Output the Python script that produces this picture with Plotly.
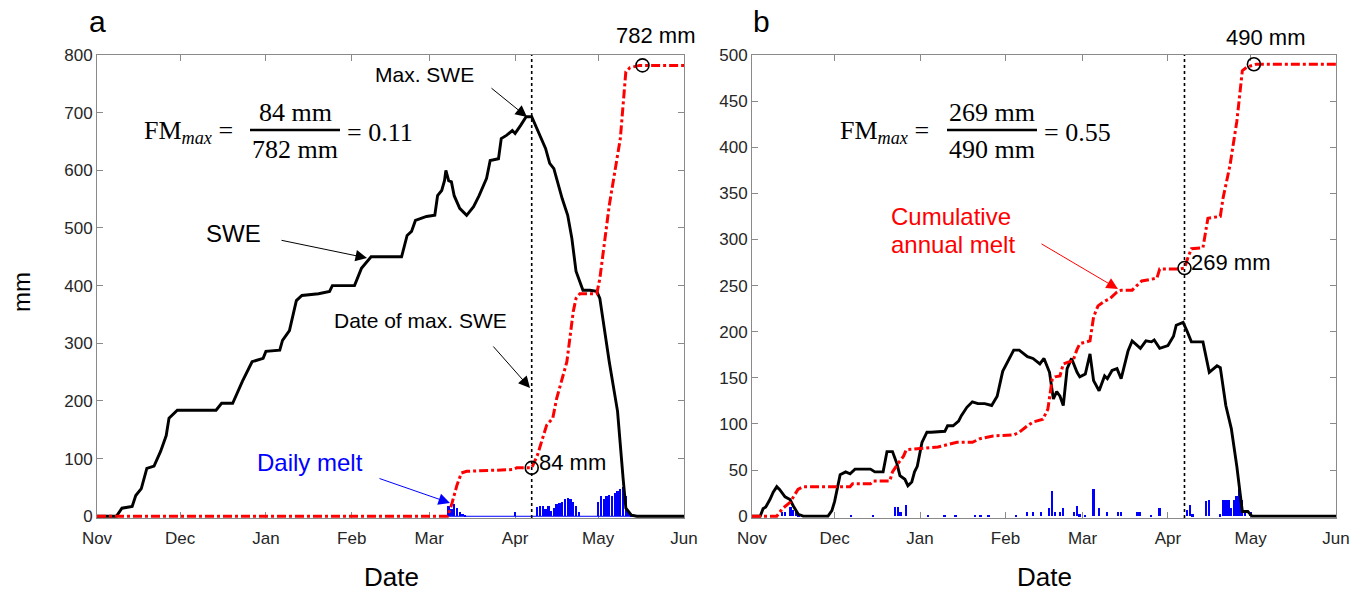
import pandas as pd
import plotly.graph_objects as go

# ---------------- data (days since 1 Nov, mm) ----------------
season_start = "2010-11-01"
month_ticks = ["2010-11-01", "2010-12-01", "2011-01-01", "2011-02-01",
               "2011-03-01", "2011-04-01", "2011-05-01", "2011-06-01"]
month_labels = ["Nov", "Dec", "Jan", "Feb", "Mar", "Apr", "May", "Jun"]

# Panel a
swe_a_day = [0, 7, 9, 12.7, 14, 16, 18, 20.6, 23, 25, 26, 27, 29, 43, 45, 49, 52.5, 56, 60, 61,
             66, 67, 69.5, 72, 74, 80, 84, 85, 93, 95.5, 99, 110, 112, 113.6, 115, 119, 122, 123, 124.5, 125.5,
             126, 127, 128, 129, 131, 133.5, 136, 138, 140.7, 142, 145, 146, 148, 150, 151, 153, 155, 157, 160, 162,
             163.5, 165, 168, 170, 171.5, 173, 175.5, 178, 180.5, 181.6, 185, 188, 190, 191, 193, 195, 212]
swe_a_val = [0, 0, 14, 17, 36, 48, 83, 87, 113, 140, 170, 175, 184, 184, 196, 196, 234, 268, 274, 286,
             288, 305, 322, 374, 383, 386, 390, 400, 400, 430, 450, 450, 487, 494, 513, 520, 522, 556, 565, 582,
             600, 582, 580, 556, 534, 522, 537, 556, 586, 617, 620, 655, 661, 669, 664, 678, 693, 693, 661, 638,
             612, 603, 551, 522, 482, 425, 392, 392, 390, 378, 268, 182, 66, 14, 2, 0, 0]
cum_a_day = [0, 126.6, 128, 130, 131.6, 133.5, 150, 151.6, 157, 159, 160.6, 162.4, 164.6, 166, 169.7, 172,
             173, 174.4, 180.5, 181.6, 185, 189, 191, 192.5, 196, 212]
cum_a_val = [0, 0, 19, 54, 75, 78, 81, 84, 84, 105, 130, 158, 170, 204, 268, 355,
             378, 386, 386, 412, 539, 655, 771, 778, 782, 782]
melt_a_day = [127, 128, 129, 130, 131, 132, 133, 151, 159, 160, 161, 162, 163, 164, 165, 166, 167, 168,
              169, 170, 171, 172, 173, 174, 181, 182, 183, 184, 185, 186, 187, 188, 189, 190, 191, 192, 193]
melt_a_val = [18, 12, 22, 15, 8, 4, 2, 7, 16, 18, 17, 13, 18, 10, 14, 21, 23, 25,
              30, 31, 30, 24, 18, 7, 25, 36, 30, 35, 37, 35, 41, 44, 47, 50, 36, 10, 3]
melt_a_span = [126, 195]
mark_a_day = [157, 197]
mark_a_val = [84, 782]
peak_a_day = 157

# Panel b
swe_b_day = [0, 3, 4, 5, 6.5, 7.7, 9, 10, 12, 13.8, 15, 16.8, 18.6, 27.6, 29, 30, 32, 34, 35.6, 37.4,
             43, 44.6, 47.6, 49, 51, 52.6, 53.7, 55.5, 56.6, 58, 59, 60, 61.7, 63.5, 65, 68, 70, 71, 73, 75,
             76, 78, 80, 82, 84.5, 87, 89, 91, 93.6, 95, 97, 100, 102, 104.5, 106, 108, 109.4, 110.6, 111.8, 113,
             114.4, 116, 118, 119, 121, 122.7, 124, 126, 128, 129, 130.7, 132.5, 134, 136.5, 138, 141, 143, 145, 146, 148,
             151, 153, 154, 156.5, 158, 159.5, 163.7, 166, 168.8, 170, 172, 174, 176, 177, 178, 180, 181.5, 212]
swe_b_val = [0, 0, 8, 10, 18, 26, 32, 29, 21, 18, 11, 2, 0, 0, 6, 16, 45, 48, 46, 51,
             51, 48, 48, 70, 70, 57, 44, 40, 33, 37, 48, 54, 80, 91, 91, 92, 92, 98, 98, 103,
             109, 118, 124, 122, 122, 120, 130, 157, 173, 180, 180, 173, 171, 165, 171, 156, 127, 135, 130, 120,
             160, 171, 156, 151, 154, 176, 147, 136, 152, 149, 158, 160, 149, 179, 190, 182, 190, 189, 191, 182,
             185, 195, 207, 210, 200, 189, 189, 156, 163, 161, 120, 95, 54, 26, 5, 5, 0, 0]
cum_b_day = [0, 9, 11, 13.8, 16.7, 18.5, 35.6, 36.5, 43, 44, 50, 51, 53, 55, 56, 67.5, 74.4, 80, 82.8, 87.5,
             95, 97, 100, 102, 105.6, 107.4, 109, 110, 111.8, 113, 114.7, 116.5, 118, 119, 122.7, 124, 125.6, 128, 130, 132.5,
             134, 138, 139.7, 141.5, 147, 148, 155, 157, 158.2, 159.5, 163.7, 165.5, 170, 171, 173.5, 176, 178, 179.7, 183, 212]
cum_b_val = [0, 0, 8, 15, 29, 32, 32, 35, 35, 38, 38, 48, 57, 65, 72, 75, 80, 80, 84, 87,
             88, 91, 98, 102, 105, 116, 149, 151, 152, 165, 167, 168, 181, 187, 190, 216, 228, 233, 236, 243,
             245, 245, 250, 255, 258, 268, 268, 269, 280, 290, 291, 323, 325, 345, 380, 428, 483, 487, 490, 490]
melt_b_day = [11, 12, 14, 15, 16, 17, 36, 44, 52, 53, 54, 56, 64, 70, 74, 81, 83, 86, 96, 100,
              102, 105, 108, 109, 110, 112, 113, 117, 118, 119, 121, 124, 126, 129, 133, 134, 140, 141, 145, 148,
              158, 159, 160, 165, 166, 170, 171, 172, 173, 174, 175, 176, 177, 178, 179, 181]
melt_b_val = [4, 5, 10, 7, 4, 2, 1, 1, 10, 10, 5, 12, 1, 1, 1, 1, 1, 1, 1, 4,
              5, 4, 9, 27, 5, 4, 9, 4, 11, 2, 1, 29, 9, 4, 4, 4, 4, 4, 1, 9,
              7, 12, 2, 16, 17, 2, 17, 17, 17, 9, 18, 22, 29, 18, 7, 5]
mark_b_day = [157, 182.2]
mark_b_val = [269, 490]
peak_b_day = 157

# ---------------- helpers ----------------
W, H = 1368, 594
BASE = pd.Timestamp(season_start)
DAY_MS = 86400000


def dates(days):
    return [BASE + pd.Timedelta(days=float(d)) for d in days]


def px(x):
    return x / W


def py(y):
    return 1 - y / H


SANS = "Liberation Sans, Arial, sans-serif"
SERIF = "Liberation Serif, Times New Roman, serif"
BLUE = "#0000ff"
RED = "#ff0000"

fig = go.Figure()

panels = [
    dict(xa="x", ya="y", sd=swe_a_day, sv=swe_a_val, cd=cum_a_day, cv=cum_a_val,
         md=melt_a_day, mv=melt_a_val, kd=mark_a_day, kv=mark_a_val, span=melt_a_span),
    dict(xa="x2", ya="y2", sd=swe_b_day, sv=swe_b_val, cd=cum_b_day, cv=cum_b_val,
         md=melt_b_day, mv=melt_b_val, kd=mark_b_day, kv=mark_b_val, span=None),
]

for i, p in enumerate(panels):
    fig.add_trace(go.Bar(x=dates(p["md"]), y=p["mv"], width=(0.85 if i == 0 else 0.7) * DAY_MS,
                         marker=dict(color=BLUE, line=dict(width=0)),
                         xaxis=p["xa"], yaxis=p["ya"], showlegend=False))
    if p["span"] is not None:
        fig.add_trace(go.Scatter(x=dates(p["span"]), y=[0, 0], mode="lines",
                                 line=dict(color=BLUE, width=1),
                                 xaxis=p["xa"], yaxis=p["ya"], showlegend=False))
    fig.add_trace(go.Scatter(x=dates(p["sd"]), y=p["sv"], mode="lines",
                             line=dict(color="black", width=2.9),
                             xaxis=p["xa"], yaxis=p["ya"], showlegend=False))
    fig.add_trace(go.Scatter(x=dates(p["cd"]), y=p["cv"], mode="lines",
                             line=dict(color=RED, width=3, dash="dashdot"),
                             xaxis=p["xa"], yaxis=p["ya"], showlegend=False))
    fig.add_trace(go.Scatter(x=dates(p["kd"]), y=p["kv"], mode="markers",
                             marker=dict(symbol="circle-open", size=13, color="black",
                                         line=dict(width=1.6, color="black")),
                             xaxis=p["xa"], yaxis=p["ya"], showlegend=False, cliponaxis=False))

axis_common = dict(showline=True, linecolor="#8a8a8a", linewidth=1, mirror="ticks",
                   ticks="inside", ticklen=6, tickcolor="#8a8a8a", showgrid=False, zeroline=False,
                   automargin=False, layer="below traces",
                   tickfont=dict(family=SANS, size=17, color="#262626"))
xcommon = dict(type="date", range=[BASE, pd.Timestamp(month_ticks[-1])],
               tickvals=month_ticks, ticktext=month_labels, ticklabelstandoff=5, **axis_common)

ydom = [py(518), py(55)]
fig.update_layout(
    width=W, height=H, margin=dict(l=0, r=0, t=0, b=0, autoexpand=False),
    paper_bgcolor="white", plot_bgcolor="white", barmode="overlay", bargap=0,
    xaxis=dict(domain=[px(97), px(684)], anchor="y", **xcommon),
    yaxis=dict(domain=ydom, anchor="x", range=[-3, 800], tickvals=list(range(0, 801, 100)), **axis_common),
    xaxis2=dict(domain=[px(752), px(1336)], anchor="y2", **xcommon),
    yaxis2=dict(domain=ydom, anchor="x2", range=[-2, 500], tickvals=list(range(0, 501, 50)), **axis_common),
)

# dotted lines at date of max SWE
for xa, ya, d in [("x", "y", peak_a_day), ("x2", "y2", peak_b_day)]:
    x0 = dates([d])[0]
    fig.add_shape(type="line", xref=xa, yref=ya + " domain", x0=x0, x1=x0, y0=0, y1=1,
                  line=dict(color="black", width=1.6, dash="dot"))

ann = []


def text(x, y, s, size=20, family=SANS, color="black", xanchor="center", align="center"):
    ann.append(dict(xref="paper", yref="paper", x=px(x), y=py(y), text=s, showarrow=False,
                    xanchor=xanchor, yanchor="middle", align=align,
                    font=dict(family=family, size=size, color=color)))


def arrow(hx, hy, tx, ty, color="black"):
    ann.append(dict(xref="paper", yref="paper", x=px(hx), y=py(hy), ax=tx - hx, ay=ty - hy,
                    text="", showarrow=True, arrowhead=2, arrowsize=2.3, arrowwidth=1,
                    arrowcolor=color, standoff=0, startstandoff=0))


# panel letters and axis titles
text(97, 22, "a", size=30)
text(762, 22, "b", size=30)
text(21, 292, "mm", size=24)
ann[-1]["textangle"] = -90
text(391, 577, "Date", size=26)
text(1044, 577, "Date", size=26)

# equations
for (fx, nx, lx0, lx1, ex, num, den, val) in [
        (142, 295, 250, 340, 345, "84 mm", "782 mm", "= 0.11"),
        (838, 992, 947, 1037, 1042, "269 mm", "490 mm", "= 0.55")]:
    text(fx, 132, "FM<sub><i>max</i></sub> =", size=26, family=SERIF, xanchor="left")
    text(nx, 112, num, size=26, family=SERIF)
    text(nx, 149, den, size=26, family=SERIF)
    text(ex, 132, val, size=26, family=SERIF, xanchor="left")
    fig.add_shape(type="line", xref="paper", yref="paper", x0=px(lx0), x1=px(lx1),
                  y0=py(130), y1=py(130), line=dict(color="black", width=2.5))

# panel a labels
text(476, 74, "Max. SWE", size=21, xanchor="right")
arrow(527, 117, 490, 87)
text(233, 233, "SWE", size=24)
arrow(367, 258, 280, 240)
text(509, 320, "Date of max. SWE", size=21, xanchor="right")
arrow(530, 388, 492, 345)
text(310, 462, "Daily melt", size=24, color=BLUE)
arrow(450, 503, 378, 478, color=BLUE)
text(537, 462, "84 mm", size=22, xanchor="left")
text(655, 35, "782 mm", size=22)

# panel b labels
text(889, 217, "Cumulative", size=24, color=RED, xanchor="left")
text(889, 244, "annual melt", size=24, color=RED, xanchor="left")
arrow(1118, 289, 1040, 243, color=RED)
text(1189, 262, "269 mm", size=22, xanchor="left")
text(1265, 37, "490 mm", size=22)

fig.update_layout(annotations=ann)
fig.write_html("out.html", config={"displayModeBar": False},
               post_script="document.body.style.margin='0';document.body.style.overflow='hidden';")
